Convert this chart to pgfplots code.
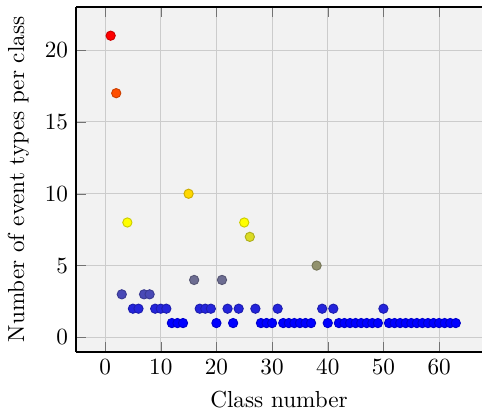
\documentclass[border=0pt]{standalone}
\usepackage{pgfplots}
\pgfplotsset{compat=1.18}
\begin{document}
\begin{tikzpicture}
\begin{axis}[
  scale only axis,
  width=175pt, height=148.7pt,
  xmin=-5.2, xmax=67.7, ymin=-1, ymax=23,
  axis y line*=left,
  y axis line style={-},
  axis line style={black, line width=0.9pt},
  xtick={0,10,...,60}, ytick={0,5,...,20},
  tick style={black!55},
  tick align=inside,
  grid=major,
  grid style={black!20},
  axis background/.style={fill=black!5},
  xlabel={Class number},
  ylabel={Number of event types per class},
  colormap={byr}{rgb255(0pt)=(0,0,255); rgb255(7pt)=(255,255,0); rgb255(20pt)=(255,0,0)},
  point meta min=1, point meta max=21,
]
\addplot[scatter, only marks, mark=*, mark size=2pt, point meta=y] table {
x y
1 21
2 17
3 3
4 8
5 2
6 2
7 3
8 3
9 2
10 2
11 2
12 1
13 1
14 1
15 10
16 4
17 2
18 2
19 2
20 1
21 4
22 2
23 1
24 2
25 8
26 7
27 2
28 1
29 1
30 1
31 2
32 1
33 1
34 1
35 1
36 1
37 1
38 5
39 2
40 1
41 2
42 1
43 1
44 1
45 1
46 1
47 1
48 1
49 1
50 2
51 1
52 1
53 1
54 1
55 1
56 1
57 1
58 1
59 1
60 1
61 1
62 1
63 1
};
\end{axis}
\path ([yshift=3pt]current axis.north);
\end{tikzpicture}
\end{document}
